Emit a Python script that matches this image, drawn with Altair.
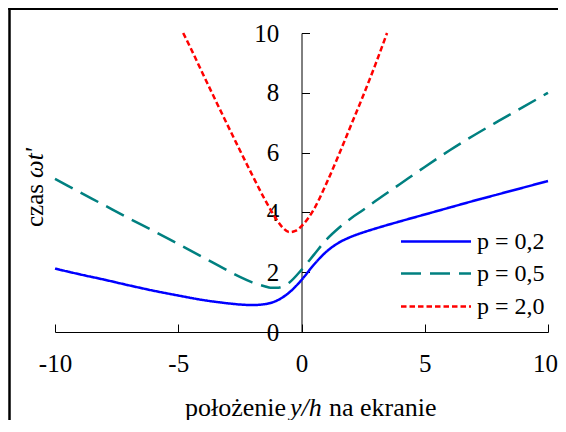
import altair as alt
import pandas as pd

series = ["p = 0,2", "p = 0,5", "p = 2,0"]
colors = ["#0000ff", "#008080", "#ff0000"]
dashes = [[1, 0], [20, 9], [5.5, 3]]

x_tick_values = [-10, -5, 0, 5, 10]
y_tick_values = [0, 2, 4, 6, 8, 10]

# p = 0,2 (blue, solid)
x_b = [-10, -9, -8, -7, -6, -5, -4, -3, -2.5, -2, -1.5, -1, -0.5, 0, 0.5, 1, 1.5, 2, 2.5, 3, 4, 5, 6, 7, 8, 9, 10]
y_b = [2.12, 1.93, 1.75, 1.56, 1.38, 1.22, 1.07, 0.96, 0.92, 0.90, 0.93, 1.05, 1.32, 1.74, 2.25, 2.68, 2.98, 3.18, 3.33, 3.46, 3.70, 3.93, 4.16, 4.39, 4.61, 4.83, 5.05]

# p = 0,5 (teal, dashed)
x_t = [-10, -9, -8, -7, -6, -5, -4, -3, -2.5, -2, -1.5, -1.25, -1, -0.5, 0, 0.5, 1, 1.5, 2, 2.5, 3, 4, 5, 6, 7, 8, 9, 10]
y_t = [5.12, 4.68, 4.24, 3.80, 3.38, 2.94, 2.50, 2.06, 1.84, 1.66, 1.53, 1.48, 1.48, 1.65, 2.08, 2.58, 3.08, 3.47, 3.80, 4.08, 4.38, 4.95, 5.52, 6.07, 6.58, 7.06, 7.53, 8.0]

# p = 2,0 (red, dotted)
x_r = [-4.8, -4.5, -4, -3.5, -3, -2.5, -2, -1.5, -1, -0.75, -0.5, -0.25, 0, 0.5, 1, 1.5, 2, 2.5, 3, 3.47]
y_r = [10.0, 9.5, 8.63, 7.77, 6.92, 6.08, 5.25, 4.45, 3.75, 3.48, 3.34, 3.38, 3.54, 4.1, 4.95, 5.9, 6.9, 7.9, 8.95, 10.0]

rows = []
for name, xs, ys in [(series[0], x_b, y_b), (series[1], x_t, y_t), (series[2], x_r, y_r)]:
    for i, (xv, yv) in enumerate(zip(xs, ys)):
        rows.append({"x": xv, "y": yv, "series": name, "order": i})
df = pd.DataFrame(rows)

FONT = "Liberation Serif"
W, H = 493, 299

color_scale = alt.Scale(domain=series, range=colors)
dash_scale = alt.Scale(domain=series, range=dashes)

lines = alt.Chart(df).mark_line(strokeWidth=2.5, interpolate="monotone").encode(
    x=alt.X("x:Q", scale=alt.Scale(domain=[-10, 10], nice=False),
            axis=alt.Axis(orient="top", offset=-H, values=x_tick_values, tickSize=8,
                          labelPadding=-39, labelBaseline="middle", labelFont=FONT,
                          labelFontSize=25, labelColor="black", domainColor="black",
                          tickColor="black", title=None, grid=False, labelFlush=False,
                          labelOverlap=False, labelExpr="datum.value",
                          labelOffset={"condition": {"test": "datum.value == 10", "value": -3},
                                       "value": 0})),
    y=alt.Y("y:Q", scale=alt.Scale(domain=[0, 10], nice=False),
            axis=alt.Axis(orient="right", offset=-W / 2, values=y_tick_values, tickSize=8,
                          labelAlign="right", labelPadding=-30.7, labelFont=FONT,
                          labelFontSize=25, labelColor="black", domainColor="black",
                          tickColor="black", title=None, grid=False, labelFlush=False,
                          labelOverlap=False)),
    color=alt.Color("series:N", scale=color_scale, legend=None),
    strokeDash=alt.StrokeDash("series:N", scale=dash_scale, legend=None),
    order="order:Q",
)

# legend (drawn by hand, rows from the series list)
legend_rows_y = [208.5, 240.5, 273.5]
legend_layers = []
for name, ly in zip(series, legend_rows_y):
    ldf = pd.DataFrame({"series": [name]})
    legend_layers.append(
        alt.Chart(ldf).mark_rule(strokeWidth=2.5).encode(
            x=alt.value(346), x2=alt.value(416), y=alt.value(ly),
            color=alt.Color("series:N", scale=color_scale, legend=None),
            strokeDash=alt.StrokeDash("series:N", scale=dash_scale, legend=None)))
    legend_layers.append(
        alt.Chart(ldf).mark_text(font=FONT, fontSize=24, color="black", align="left",
                                 baseline="middle").encode(
            x=alt.value(422), y=alt.value(ly), text="series:N"))

one = pd.DataFrame({"a": [0]})


def txt(s, x, y, size=26, **kw):
    return alt.Chart(one).mark_text(text=s, font=FONT, fontSize=size, color="black", **kw).encode(
        x=alt.value(x), y=alt.value(y))


xt1 = txt("położenie", 231, 382.5, align="right", baseline="alphabetic")
xt2 = txt("y/h", 235, 382.5, align="left", baseline="alphabetic", fontStyle="italic")
xt3 = txt("na ekranie", 274, 382.5, align="left", baseline="alphabetic")
yt1 = txt("czas", -12.4, 194, size=25, align="left", baseline="alphabetic", angle=270)
yt2 = txt("ωt'", -12.4, 145, size=25, align="left", baseline="alphabetic", angle=270, fontStyle="italic")

frame_top = alt.Chart(one).mark_rule(stroke="black", strokeWidth=2.5).encode(
    x=alt.value(-46.75), x2=alt.value(700), y=alt.value(-24.3))
frame_left = alt.Chart(one).mark_rule(stroke="black", strokeWidth=2.5).encode(
    x=alt.value(-45.5), y=alt.value(-25.5), y2=alt.value(600))

chart = alt.layer(frame_top, frame_left, lines, *legend_layers, xt1, xt2, xt3, yt1, yt2).properties(
    width=W, height=H,
    autosize=alt.AutoSizeParams(type="none"),
    padding={"left": 47, "top": 25, "right": 10, "bottom": 88},
    background="white",
).configure_view(stroke="transparent")

chart.save("out.html", embed_options={"renderer": "svg", "actions": False})
